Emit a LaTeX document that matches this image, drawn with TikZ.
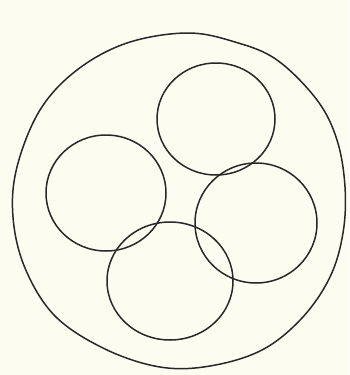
\documentclass[tikz,border=0pt]{standalone}
\usepackage{xcolor}
\definecolor{paper}{RGB}{253,252,241}
\definecolor{ink}{RGB}{40,40,40}
\begin{document}
\begin{tikzpicture}[x=1pt,y=-1pt,
  pen/.style={draw=ink,line width=1.5pt,line join=round}]
\fill[paper] (0,0) rectangle (349,375);
\useasboundingbox (0,0) rectangle (349,375);
% outer cell
\draw[pen] plot[smooth cycle,tension=0.6] coordinates {
 (187,33) (235,42) (277,60) (317,100) (337,140) (345,187)
 (343,233) (330,277) (302,318) (262,350) (210,366) (160,367)
 (105,349) (55,316) (25,268) (13,217) (17,167) (40,110) (77,70) (127,43)};
% four inner circles
\draw[pen] (216,119) ellipse [x radius=59, y radius=56];
\draw[pen] (106,193) ellipse [x radius=60, y radius=58];
\draw[pen] (256,223) ellipse [x radius=61, y radius=60];
\draw[pen] (170,281) ellipse [x radius=63, y radius=59];
\end{tikzpicture}
\end{document}
